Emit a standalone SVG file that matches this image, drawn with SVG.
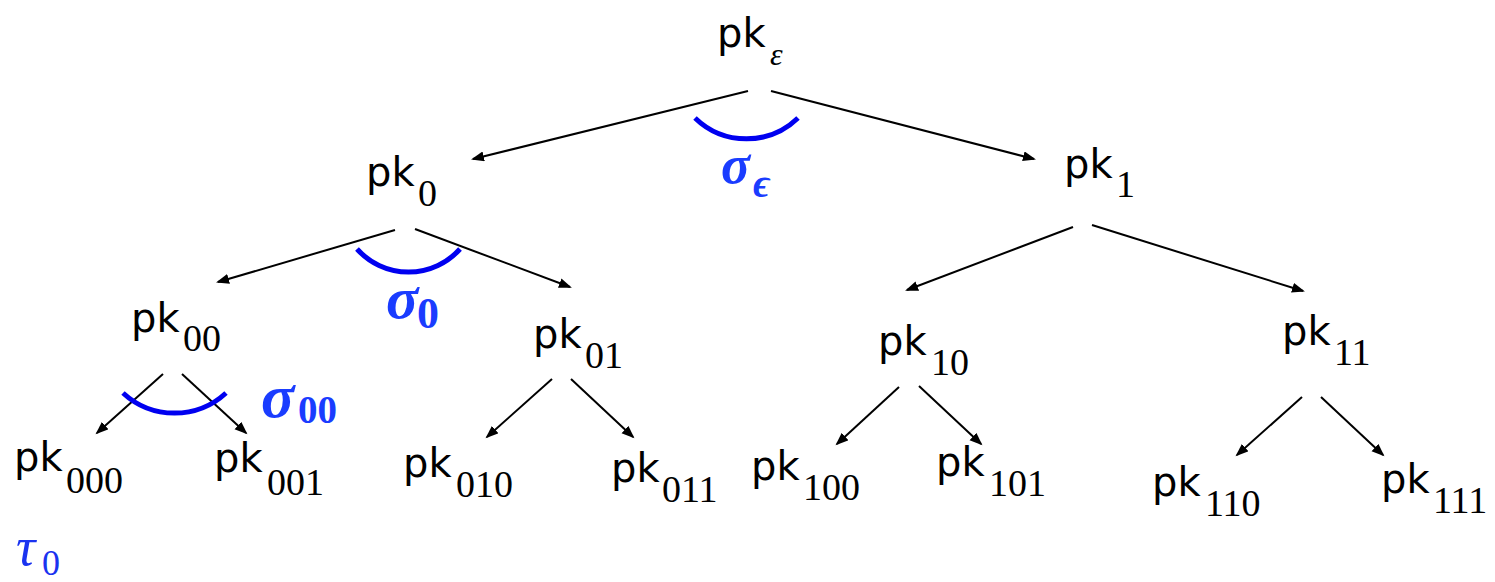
<svg xmlns="http://www.w3.org/2000/svg" width="1495" height="582" viewBox="0 0 1495 582">
<style>
.pk{font-family:"DejaVu Sans","Liberation Sans",sans-serif;font-size:40px;fill:#000}
.sb{font-family:"Liberation Serif","DejaVu Serif",serif;font-size:38px;fill:#000}
.eps{font-family:"Liberation Serif","DejaVu Serif",serif;font-size:32px;font-style:italic;fill:#000}
.sig{font-family:"Liberation Serif","DejaVu Serif",serif;font-weight:bold;font-style:italic;fill:#1a3cff}
.sigsub{font-family:"Liberation Serif","DejaVu Serif",serif;font-weight:bold;fill:#1a3cff}
.tau{font-family:"Liberation Serif","DejaVu Serif",serif;font-style:italic;fill:#1a33f0}
.tausub{font-family:"Liberation Serif","DejaVu Serif",serif;fill:#1a33f0}
.edge{stroke:#000;stroke-width:2;fill:none;marker-end:url(#ah)}
.arc{stroke:#0000f0;stroke-width:5;fill:none}
</style>
<defs>
<marker id="ah" markerUnits="userSpaceOnUse" markerWidth="14" markerHeight="11" refX="11" refY="5" orient="auto">
<path d="M0,0 L13,5 L0,10 z" fill="#000"/>
</marker>
</defs>
<g id="connectors">
<line class="edge" x1="748" y1="91" x2="473" y2="159"/>
<line class="edge" x1="771" y1="91" x2="1034" y2="159"/>
<line class="edge" x1="395" y1="230" x2="218" y2="282"/>
<line class="edge" x1="415" y1="229" x2="570" y2="287"/>
<line class="edge" x1="1073" y1="227" x2="907" y2="290"/>
<line class="edge" x1="1092" y1="225" x2="1303" y2="291"/>
<line class="edge" x1="163" y1="374" x2="97" y2="433"/>
<line class="edge" x1="182" y1="374" x2="246" y2="433"/>
<line class="edge" x1="552" y1="379" x2="487" y2="437"/>
<line class="edge" x1="571" y1="379" x2="633" y2="437"/>
<line class="edge" x1="899" y1="387" x2="837" y2="444"/>
<line class="edge" x1="919" y1="386" x2="981" y2="444"/>
<line class="edge" x1="1302" y1="397" x2="1237" y2="455"/>
<line class="edge" x1="1321" y1="397" x2="1383" y2="455"/>
</g>
<g id="signatures">
<path class="arc" d="M695,118 A74,74 0 0,0 798,118"/>
<path class="arc" d="M357,249 A69,69 0 0,0 460,249"/>
<path class="arc" d="M123,393 A76,76 0 0,0 226,393"/>
<text x="721" y="183"><tspan class="sig" font-size="54">σ</tspan><tspan class="sig" font-size="40" x="753" y="197">ϵ</tspan></text>
<text x="386" y="318"><tspan class="sig" font-size="60">σ</tspan><tspan class="sigsub" font-size="44" x="417" y="328">0</tspan></text>
<text x="261" y="417"><tspan class="sig" font-size="62">σ</tspan><tspan class="sigsub" font-size="39" x="298" y="423">00</tspan></text>
<text x="16" y="565"><tspan class="tau" font-size="54">τ</tspan><tspan class="tausub" font-size="36" x="42" y="575">0</tspan></text>
</g>
<g id="n-eps"><text class="pk" x="717" y="47">pk</text><text class="eps" x="770" y="65">ε</text></g>
<g id="n-0"><text class="pk" x="366" y="186">pk</text><text class="sb" x="418" y="206">0</text></g>
<g id="n-1"><text class="pk" x="1064" y="178">pk</text><text class="sb" x="1116" y="197">1</text></g>
<g id="n-00"><text class="pk" x="131" y="332">pk</text><text class="sb" x="183" y="351">00</text></g>
<g id="n-01"><text class="pk" x="533" y="348">pk</text><text class="sb" x="585" y="368">01</text></g>
<g id="n-10"><text class="pk" x="878" y="355">pk</text><text class="sb" x="931" y="375">10</text></g>
<g id="n-11"><text class="pk" x="1282" y="345">pk</text><text class="sb" x="1334" y="365">11</text></g>
<g id="n-000"><text class="pk" x="14" y="471">pk</text><text class="sb" x="66" y="493">000</text></g>
<g id="n-001"><text class="pk" x="214" y="472">pk</text><text class="sb" x="267" y="495">001</text></g>
<g id="n-010"><text class="pk" x="403" y="477">pk</text><text class="sb" x="456" y="497">010</text></g>
<g id="n-011"><text class="pk" x="611" y="482">pk</text><text class="sb" x="662" y="502">011</text></g>
<g id="n-100"><text class="pk" x="751" y="480">pk</text><text class="sb" x="803" y="500">100</text></g>
<g id="n-101"><text class="pk" x="936" y="476">pk</text><text class="sb" x="989" y="496">101</text></g>
<g id="n-110"><text class="pk" x="1152" y="496">pk</text><text class="sb" x="1205" y="516">110</text></g>
<g id="n-111"><text class="pk" x="1381" y="493">pk</text><text class="sb" x="1433" y="513">111</text></g>
</svg>
